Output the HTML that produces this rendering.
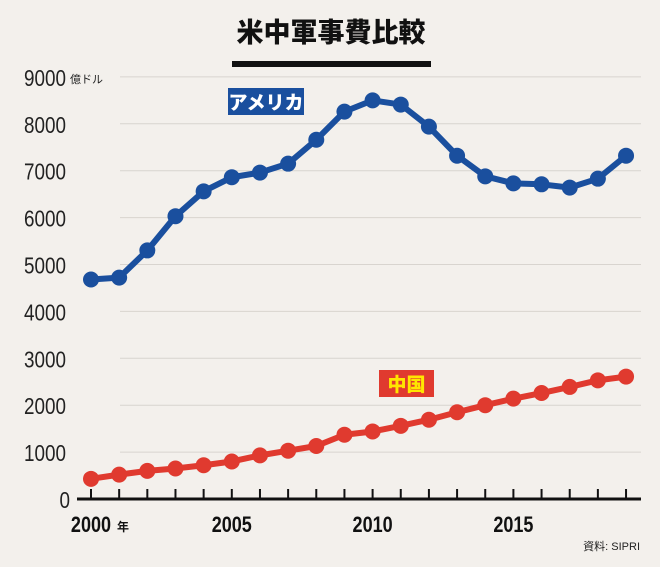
<!DOCTYPE html>
<html><head><meta charset="utf-8"><style>
body{margin:0;width:660px;height:562px;background:#f3f0ec;overflow:hidden;font-family:"Liberation Sans","Noto Sans CJK JP",sans-serif}
svg text{font-family:"Liberation Sans","Noto Sans CJK JP",sans-serif}
</style></head><body>
<svg id="c" width="660" height="562">
<rect width="660" height="562" fill="#f3f0ec"/>
<text x="331" y="42" text-anchor="middle" font-size="27" font-weight="900" fill="#111">米中軍事費比較</text>
<rect x="232" y="61" width="199" height="6" fill="#111"/>
<g id="grid"></g><g id="axis"></g><g id="series"></g>
<rect x="228" y="88" width="76" height="27" fill="#1a4f9e"/>
<text x="266" y="109" text-anchor="middle" font-size="19" font-weight="900" fill="#fff">アメリカ</text>
<rect x="379" y="370" width="55" height="27" fill="#e03a2f"/>
<text x="406.5" y="391" text-anchor="middle" font-size="19" font-weight="900" fill="#ffe600">中国</text>
<text x="640" y="550" text-anchor="end" font-size="11" fill="#222">資料: SIPRI</text>
</svg>
<script>
const years=[2000,2001,2002,2003,2004,2005,2006,2007,2008,2009,2010,2011,2012,2013,2014,2015,2016,2017,2018,2019];
const usa=[4680,4720,5300,6030,6560,6860,6960,7150,7660,8260,8500,8410,7940,7320,6880,6730,6710,6640,6830,7320];
const china=[430,520,600,650,720,800,930,1030,1130,1370,1440,1560,1690,1850,2000,2140,2260,2390,2530,2610];
const yTicks=[0,1000,2000,3000,4000,5000,6000,7000,8000,9000];
const xLabels=[2000,2005,2010,2015];
const X=y=>91+(y-2000)*28.16;
const Y=v=>499-v*0.0469;
const NS="http://www.w3.org/2000/svg";
function mk(p,t,a){const e=document.createElementNS(NS,t);for(const k in a)e.setAttribute(k,a[k]);p.appendChild(e);return e;}
const g=document.getElementById('grid'),ax=document.getElementById('axis'),s=document.getElementById('series');
yTicks.forEach(v=>{
 if(v>0){const l=mk(g,'line',{x1:120,x2:641,y1:Y(v),y2:Y(v),stroke:'#d8d4cf','stroke-width':1});
 
 }
 const t=mk(ax,'text',{x:v===0?70:66,y:Y(v)+9,'text-anchor':'end','font-size':23,fill:'#222',transform:`translate(${v===0?70:66},0) scale(0.82,1) translate(${-(v===0?70:66)},0)`});
 t.textContent=v;
 
 
});
const u=mk(ax,'text',{x:70,y:Y(9000)+6,'font-size':11,fill:'#222'});u.textContent='億ドル';


const base=mk(ax,'line',{x1:77,x2:641,y1:499,y2:499,stroke:'#111','stroke-width':3});


years.forEach(y=>{const t=mk(ax,'line',{x1:X(y),x2:X(y),y1:489,y2:499,stroke:'#111','stroke-width':2});
 
 });
xLabels.forEach(y=>{const t=mk(ax,'text',{x:X(y),y:532,'text-anchor':'middle','font-size':22,'font-weight':'bold',fill:'#111',transform:`translate(${X(y)},0) scale(0.82,1) translate(${-X(y)},0)`});
 t.textContent=y;
 
 });
const nen=mk(ax,'text',{x:X(2000)+26,y:531,'font-size':12,'font-weight':'bold',fill:'#111'});nen.textContent='年';


function draw(data,col,name){
 const p=mk(s,'polyline',{points:data.map((v,i)=>X(years[i])+','+Y(v)).join(' '),fill:'none',stroke:col,'stroke-width':6,'stroke-linejoin':'round'});
 
 
 data.forEach((v,i)=>{const c=mk(s,'circle',{cx:X(years[i]),cy:Y(v),r:8,fill:col});
 
 });
}
draw(usa,'#1a4f9e','usa');draw(china,'#e03a2f','china');
</script>
</body></html>
